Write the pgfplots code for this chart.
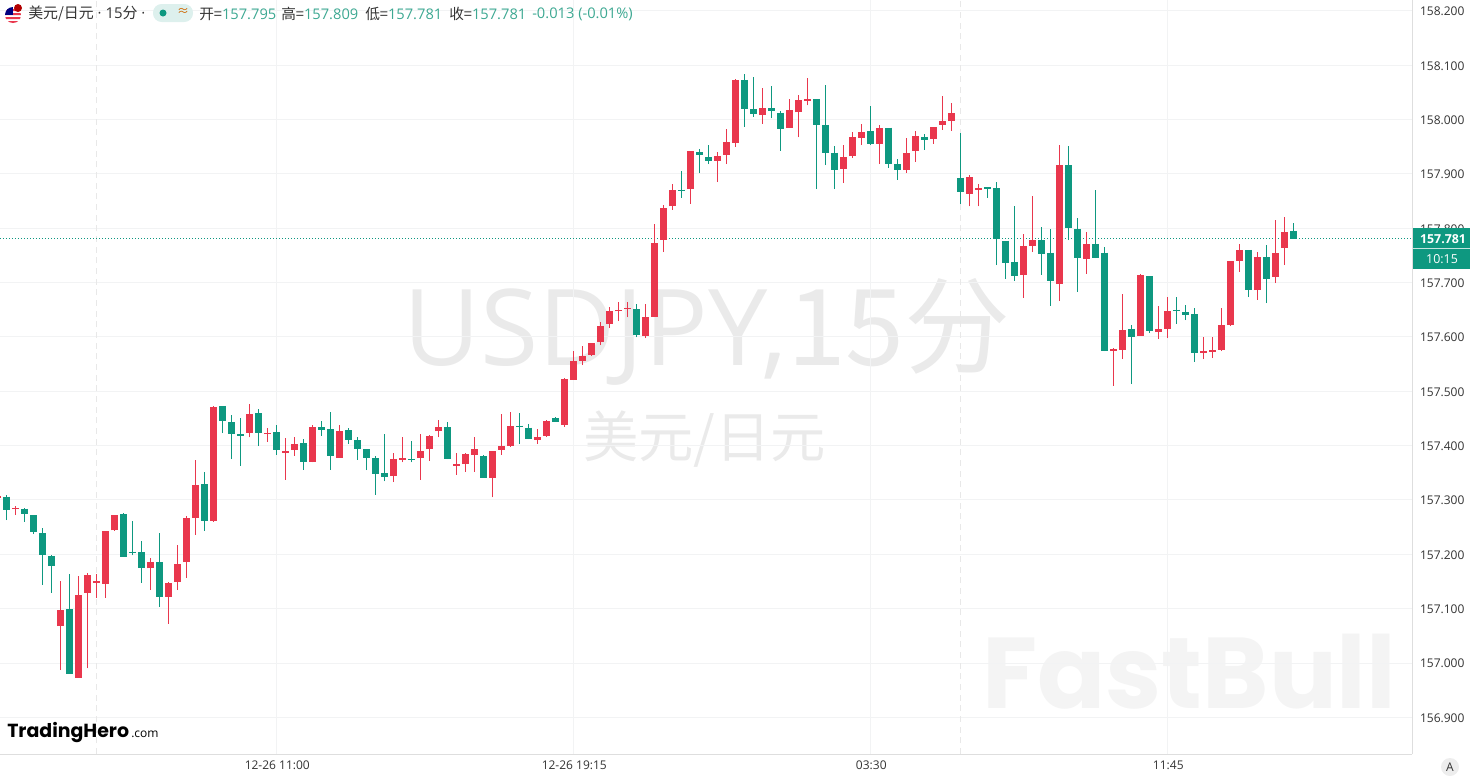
\documentclass[border=0pt]{standalone}
\usepackage{fontspec}
\usepackage{pgfplots}
\usepackage{pgfplotstable}
\pgfplotsset{compat=1.18}
\setmainfont{Open Sans}
\newfontfamily\cjk{Noto Sans CJK SC}
\newfontfamily\pop{Poppins}
\definecolor{upc}{HTML}{E9374D}
\definecolor{dnc}{HTML}{0E9880}
\definecolor{valc}{HTML}{3DA892}
\definecolor{gridc}{HTML}{F2F3F4}
\definecolor{wm}{HTML}{EAEAEA}
\definecolor{wmb}{HTML}{F4F4F4}
\definecolor{txt}{HTML}{333333}
\pgfplotstableread{
x open high low close
-1 157.304 157.309 157.302 157.307
1 157.283 157.288 157.272 157.285
6 157.068 157.151 156.987 157.098
8 156.973 157.160 156.973 157.125
9 157.129 157.165 156.990 157.162
10 157.148 157.164 157.120 157.151
11 157.146 157.243 157.120 157.243
12 157.244 157.273 157.243 157.272
16 157.174 157.194 157.134 157.185
18 157.122 157.149 157.072 157.147
19 157.150 157.217 157.134 157.182
20 157.185 157.271 157.156 157.267
21 157.267 157.374 157.236 157.327
23 157.261 157.473 157.260 157.471
27 157.424 157.477 157.415 157.458
29 157.421 157.433 157.407 157.424
31 157.387 157.414 157.337 157.390
32 157.392 157.415 157.381 157.403
34 157.370 157.438 157.369 157.435
37 157.378 157.438 157.378 157.427
43 157.344 157.386 157.333 157.375
44 157.374 157.416 157.369 157.377
46 157.378 157.421 157.337 157.391
47 157.393 157.420 157.372 157.418
48 157.426 157.447 157.415 157.434
50 157.363 157.386 157.346 157.366
51 157.366 157.386 157.352 157.385
52 157.383 157.416 157.352 157.393
54 157.341 157.390 157.305 157.390
55 157.392 157.458 157.383 157.399
56 157.400 157.461 157.398 157.436
59 157.411 157.431 157.403 157.416
60 157.418 157.447 157.416 157.445
62 157.438 157.524 157.435 157.523
63 157.521 157.575 157.521 157.556
64 157.556 157.583 157.548 157.565
65 157.567 157.589 157.565 157.588
66 157.591 157.628 157.585 157.620
67 157.624 157.655 157.616 157.647
68 157.647 157.664 157.629 157.650
69 157.651 157.664 157.636 157.654
71 157.602 157.661 157.598 157.637
72 157.637 157.808 157.637 157.773
73 157.779 157.843 157.756 157.837
74 157.840 157.881 157.834 157.870
76 157.872 157.943 157.845 157.942
79 157.924 157.940 157.885 157.933
80 157.935 157.982 157.918 157.959
81 157.957 158.075 157.950 158.073
84 158.008 158.058 157.992 158.021
87 157.985 158.038 157.985 158.018
88 158.013 158.046 157.967 158.036
89 158.034 158.076 158.026 158.038
93 157.909 157.953 157.883 157.931
94 157.932 157.977 157.930 157.968
95 157.966 157.992 157.953 157.977
97 157.955 157.989 157.918 157.985
100 157.907 157.966 157.902 157.939
101 157.942 157.979 157.922 157.970
103 157.964 157.986 157.955 157.986
104 157.990 158.043 157.981 157.997
105 157.997 158.031 157.979 158.012
107 157.863 157.898 157.840 157.894
108 157.871 157.881 157.840 157.874
113 157.714 157.789 157.672 157.767
114 157.767 157.859 157.756 157.778
117 157.697 157.953 157.666 157.916
120 157.743 157.793 157.716 157.771
123 157.574 157.580 157.510 157.578
124 157.576 157.679 157.559 157.613
126 157.602 157.716 157.602 157.714
128 157.609 157.657 157.596 157.615
129 157.615 157.673 157.598 157.648
133 157.571 157.600 157.559 157.574
134 157.573 157.600 157.561 157.576
135 157.576 157.653 157.574 157.622
136 157.622 157.740 157.620 157.740
137 157.740 157.771 157.720 157.760
139 157.686 157.756 157.668 157.747
141 157.710 157.815 157.699 157.754
142 157.764 157.821 157.732 157.793
}\upbars
\pgfplotstableread{
x open high low close
0 157.306 157.309 157.263 157.282
2 157.284 157.285 157.260 157.274
3 157.272 157.272 157.237 157.241
4 157.239 157.248 157.144 157.199
5 157.197 157.198 157.129 157.179
7 157.099 157.164 156.980 156.980
13 157.274 157.276 157.196 157.196
14 157.205 157.261 157.198 157.203
15 157.204 157.225 157.148 157.174
17 157.185 157.239 157.104 157.122
22 157.329 157.352 157.243 157.262
24 157.473 157.473 157.423 157.446
25 157.443 157.456 157.375 157.422
26 157.421 157.450 157.363 157.418
28 157.460 157.467 157.399 157.424
30 157.425 157.438 157.383 157.392
33 157.404 157.412 157.356 157.370
35 157.434 157.445 157.418 157.429
36 157.430 157.461 157.356 157.380
38 157.428 157.433 157.403 157.410
39 157.410 157.416 157.374 157.394
40 157.393 157.394 157.355 157.378
41 157.377 157.381 157.310 157.348
42 157.349 157.421 157.334 157.343
45 157.375 157.409 157.369 157.373
49 157.434 157.443 157.375 157.375
53 157.381 157.382 157.341 157.341
57 157.437 157.460 157.403 157.434
58 157.433 157.439 157.412 157.412
61 157.451 157.452 157.444 157.444
70 157.651 157.661 157.599 157.604
75 157.871 157.906 157.856 157.869
77 157.940 157.946 157.901 157.934
78 157.931 157.953 157.918 157.924
82 158.073 158.083 157.987 158.020
83 158.019 158.078 158.005 158.010
85 158.021 158.062 158.002 158.015
86 158.012 158.015 157.943 157.983
90 158.038 158.038 157.872 157.990
91 157.990 158.064 157.916 157.939
92 157.939 157.951 157.872 157.907
96 157.979 158.025 157.953 157.955
98 157.985 157.985 157.911 157.918
99 157.918 157.927 157.889 157.907
102 157.968 157.973 157.944 157.962
106 157.893 157.976 157.845 157.867
109 157.875 157.876 157.856 157.872
110 157.874 157.885 157.732 157.780
111 157.777 157.777 157.707 157.736
112 157.738 157.841 157.703 157.712
115 157.778 157.802 157.714 157.753
116 157.755 157.799 157.657 157.703
118 157.916 157.951 157.778 157.800
119 157.799 157.819 157.683 157.745
121 157.771 157.870 157.745 157.745
122 157.755 157.765 157.574 157.574
125 157.615 157.622 157.513 157.600
127 157.712 157.712 157.607 157.611
130 157.650 157.673 157.624 157.647
131 157.646 157.659 157.631 157.640
132 157.642 157.653 157.554 157.570
138 157.760 157.760 157.673 157.686
140 157.747 157.769 157.662 157.707
143 157.795 157.809 157.781 157.781
}\dnbars
\newcommand\candles[2]{% table, colour
  \pgfplotstablegetrowsof{#1}\pgfmathtruncatemacro\lastrow{\pgfplotsretval-1}%
  \pgfplotsforeachungrouped \r in {0,...,\lastrow}{%
    \pgfplotstablegetelem{\r}{x}\of{#1}\let\cx\pgfplotsretval
    \pgfplotstablegetelem{\r}{open}\of{#1}\let\co\pgfplotsretval
    \pgfplotstablegetelem{\r}{high}\of{#1}\let\ch\pgfplotsretval
    \pgfplotstablegetelem{\r}{low}\of{#1}\let\cl\pgfplotsretval
    \pgfplotstablegetelem{\r}{close}\of{#1}\let\cc\pgfplotsretval
    \edef\tmp{\noexpand\addplot[forget plot,no markers,draw=#2,line width=0.8pt] coordinates {(\cx,\cl)(\cx,\ch)};
      \noexpand\addplot[forget plot,no markers,draw=#2,line width=5.25pt] coordinates {(\cx,\co)(\cx,\cc)};}%
    \tmp
  }%
}
\begin{document}
\begin{tikzpicture}[x=0.75pt,y=-0.75pt]
\useasboundingbox (0,0) rectangle (1470,782);
% watermarks
\node[anchor=base west,inner sep=0,text=wm,font=\fontsize{79.5}{90}\selectfont] at (403,365) {USDJPY,{\cjk 15分}};
\node[anchor=base west,inner sep=0,text=wm,font=\fontsize{41.5}{46}\cjk] at (583,457) {美元/日元};
\node[anchor=base west,inner sep=0,text=wmb,font=\fontsize{75.5}{88}\pop\bfseries] at (982,708) {FastBull};
\begin{axis}[
  at={(0pt,-565.5pt)},anchor=south west,
  scale only axis,width=1059pt,height=565.5pt,
  xmin=-0.7,xmax=156.19,ymin=156.8326,ymax=158.2199,
  axis x line*=bottom,axis y line*=right,
  axis line style={draw=black!13,-},
  xtick={30,63,96,129},
  xticklabels={12-26 11:00,12-26 19:15,03:30,11:45},
  ytick={156.9,157.0,157.1,157.2,157.3,157.4,157.5,157.6,157.7,157.8,157.9,158.0,158.1,158.2},
  yticklabel pos=right,
  major tick length=0pt,
  grid=major,major grid style={draw=gridc,line width=0.75pt},
  tick label style={font=\fontsize{9}{11}\selectfont,text=txt},
  /pgf/number format/assume math mode=true,
  /pgf/number format/fixed,/pgf/number format/precision=3,/pgf/number format/zerofill,/pgf/number format/1000 sep={},
  yticklabel style={xshift=2.5pt,yshift=-0.5pt},
  xticklabel style={yshift=-1.5pt,xshift=0.75pt},
]
\addplot[forget plot,no markers,draw=black!9,line width=1.1pt,dash pattern=on 4.5pt off 3.5pt] coordinates {(10,156.8326)(10,158.2199)};
\addplot[forget plot,no markers,draw=black!9,line width=1.1pt,dash pattern=on 4.5pt off 3.5pt] coordinates {(106,156.8326)(106,158.2199)};
\addplot[forget plot,no markers,draw=dnc,line width=0.75pt,dash pattern=on 0.75pt off 1.5pt] coordinates {(-0.7,157.781)(156.19,157.781)};
\candles{\upbars}{upc}
\candles{\dnbars}{dnc}
\end{axis}
% price box
\fill[dnc] (1413,228) rectangle (1470,269);
\draw[white!75!dnc,line width=0.5pt] (1413,248.5) -- (1470,248.5);
\node[text=white,font=\fontsize{9.3}{11}\selectfont\bfseries,inner sep=0] at (1443,239) {157.781};
\node[text=white,font=\fontsize{9.3}{11}\selectfont,inner sep=0] at (1442,259) {10:15};
% A button
\fill[black!7] (1450,767) circle (9);
\node[text=txt,font=\fontsize{9}{11}\selectfont,inner sep=0] at (1450,767) {A};
% flag
\begin{scope}
\clip (13,15) circle (8);
\fill[white] (4,6) rectangle (22,24);
\fill[upc] (4,9) rectangle (22,11) (4,13) rectangle (22,15) (4,17) rectangle (22,19) (4,21) rectangle (22,23);
\fill[blue!50!black] (4,6) rectangle (13,15);
\end{scope}
\fill[red!70!black] (18,8) circle (4);
% header
\node[anchor=west,inner sep=0,text=txt,font=\fontsize{11.2}{13}\selectfont] at (28,14) {{\cjk 美元/日元} · 15{\cjk 分} ·};
\fill[dnc!14,rounded corners=6.5pt] (153,4) rectangle (193,22);
\fill[dnc] (163,13) circle (3.5);
\node[inner sep=0,text=orange!80!black,font=\fontsize{9}{11}\cjk] at (183,12) {≈};
\foreach \xx/\lab/\val in {199/开/157.795,281/高/157.809,365/低/157.781,449/收/157.781}{
  \node[anchor=west,inner sep=0,font=\fontsize{11}{13}\selectfont] at (\xx,14) {{\color{txt}\cjk \lab=}{\color{valc}\val}};
}
\node[anchor=west,inner sep=0,text=valc,font=\fontsize{11}{13}\selectfont] at (532,14) {-0.013 (-0.01\%)};
% logo
\node[anchor=base west,inner sep=0,text=black,font=\fontsize{14.2}{17}\pop\bfseries] at (7,737) {TradingHero};
\node[anchor=base west,inner sep=0,text=black,font=\fontsize{9}{11}\selectfont] at (131,737) {.com};
\end{tikzpicture}
\end{document}
